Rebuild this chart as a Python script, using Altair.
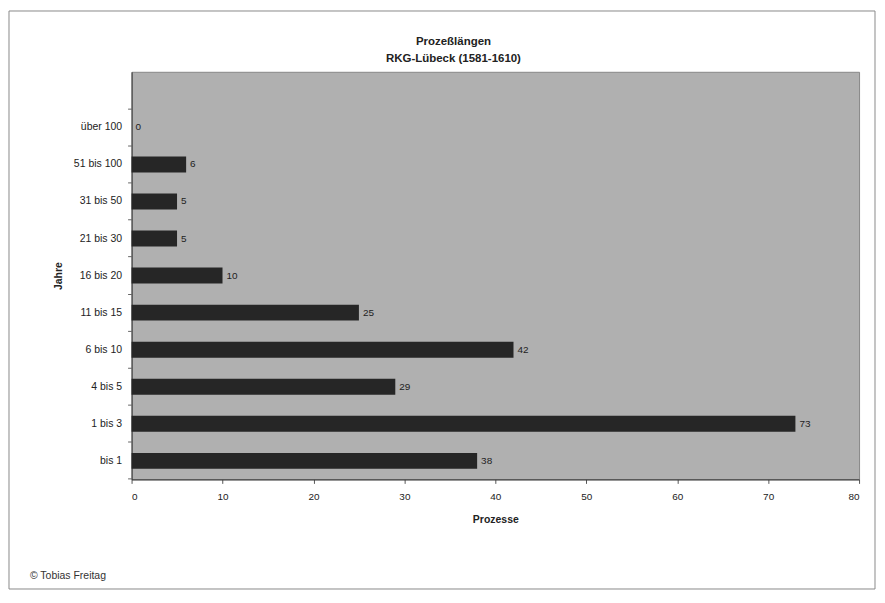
import altair as alt
import pandas as pd

categories = ["über 100", "51 bis 100", "31 bis 50", "21 bis 30", "16 bis 20",
              "11 bis 15", "6 bis 10", "4 bis 5", "1 bis 3", "bis 1"]
values = [0, 6, 5, 5, 10, 25, 42, 29, 73, 38]
x_ticks = [0, 10, 20, 30, 40, 50, 60, 70, 80]
title_lines = ["Prozeßlängen", "RKG-Lübeck (1581-1610)"]
credit = "© Tobias Freitag"

df = pd.DataFrame({"Jahre": categories, "Prozesse": values})
one = pd.DataFrame({"a": [0]})

FONT = "Liberation Sans"
y_domain = [" "] + categories  # empty slot above the first category, as in the original

x_enc = alt.X("Prozesse:Q",
              scale=alt.Scale(domain=[0, 80], nice=False),
              axis=alt.Axis(values=x_ticks, title="Prozesse", grid=False,
                            labelFontSize=10, titleFontSize=10.5, titleFontWeight="bold",
                            tickSize=4, labelPadding=8, titlePadding=13,
                            domainColor="#333", tickColor="#555",
                            labelColor="#222", titleColor="#222", labelFont=FONT, titleFont=FONT))
y_scale = alt.Scale(domain=y_domain, paddingInner=0.57, paddingOuter=0.285)
y_enc = alt.Y("Jahre:N", scale=y_scale,
              axis=alt.Axis(title="Jahre", values=categories, ticks=False, labelFontSize=10.5,
                            labelPadding=10, orient="left",
                            titleFontSize=10.5, titleFontWeight="bold", titlePadding=10,
                            domainColor="#333", labelColor="#222", titleColor="#222",
                            labelFont=FONT, titleFont=FONT))

bars = alt.Chart(df).mark_bar(color="#262626").encode(x=x_enc, y=y_enc)

tick_layer = alt.Chart(df).mark_bar(opacity=0).encode(
    x="Prozesse:Q",
    y=alt.Y("Jahre:N", scale=y_scale,
            axis=alt.Axis(orient="left", labels=False, domain=False, ticks=True, title=None,
                          values=y_domain, bandPosition=1.66, tickSize=4, tickColor="#666",
                          grid=False)))

labels = alt.Chart(df).mark_text(align="left", baseline="middle", dx=4, fontSize=10,
                                 color="#222", font=FONT).encode(
    x="Prozesse:Q", y=alt.Y("Jahre:N", scale=y_scale, axis=None),
    text="Prozesse:Q")

t1 = alt.Chart(one).mark_text(fontSize=11.5, fontWeight="bold", color="#222", font=FONT,
                              baseline="middle").encode(
    x=alt.value(323), y=alt.value(-30), text=alt.value(title_lines[0]))
t2 = alt.Chart(one).mark_text(fontSize=11.5, fontWeight="bold", color="#222", font=FONT,
                              baseline="middle").encode(
    x=alt.value(323), y=alt.value(-13), text=alt.value(title_lines[1]))
cr = alt.Chart(one).mark_text(fontSize=10.5, color="#333", font=FONT, align="left",
                              baseline="middle").encode(
    x=alt.value(-102), y=alt.value(506), text=alt.value(credit))
frame = alt.Chart(one).mark_rect(fill=None, stroke="#8a8a8a", strokeWidth=1).encode(
    x=alt.value(-123), x2=alt.value(746), y=alt.value(-61), y2=alt.value(519))

chart = alt.layer(frame, bars, tick_layer, labels, t1, t2, cr).resolve_axis(
    y="independent"
).properties(
    width=730, height=409,
    autosize=alt.AutoSizeParams(type="none"),
    padding={"left": 124, "top": 63, "right": 18, "bottom": 110},
    background="white",
).configure_view(fill="#b0b0b0", stroke="#888", strokeWidth=1)

chart.save("out.html", embed_options={"renderer": "svg", "actions": False})
